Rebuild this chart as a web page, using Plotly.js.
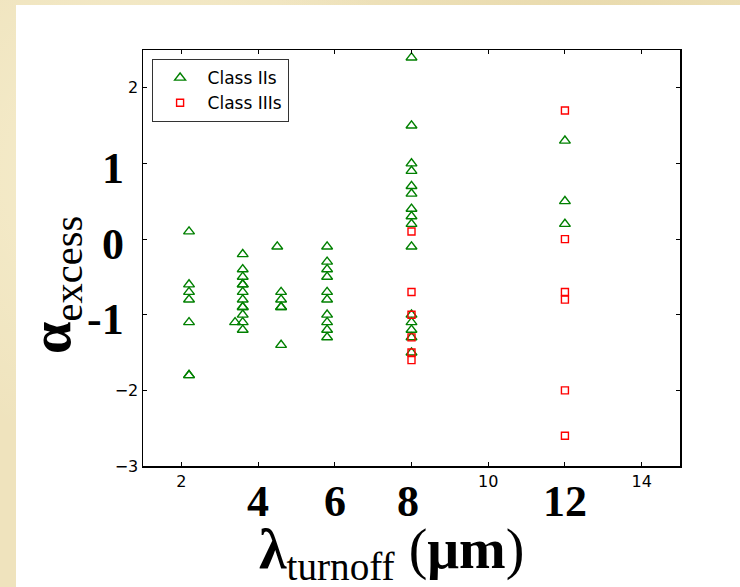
<!DOCTYPE html>
<html>
<head>
<meta charset="utf-8">
<script src="https://cdn.plot.ly/plotly-3.0.1.min.js"></script>
<style>
  html, body { margin: 0; padding: 0; }
  body { width: 740px; height: 587px; overflow: hidden; position: relative;
         background: #efe3bd;
         background-image: radial-gradient(circle at 20% 30%, rgba(255,250,225,0.5), rgba(0,0,0,0) 40%),
                           radial-gradient(circle at 80% 10%, rgba(220,200,140,0.35), rgba(0,0,0,0) 40%); }
  #panel { position: absolute; left: 16px; top: 5px; right: 0; bottom: 0; background: #ffffff; }
  #chart { position: absolute; left: 0; top: 0; width: 740px; height: 587px; }
</style>
</head>
<body>
<div id="panel"></div>
<div id="chart"></div>
<script>
// ---- data ----
const classII_x = [
  2.2, 2.2, 2.2, 2.2, 2.2, 2.2, 2.2,
  3.6, 3.6, 3.6, 3.6, 3.6, 3.6, 3.6, 3.6, 3.6, 3.6, 3.6, 3.6,
  3.4,
  4.5,
  4.6, 4.6, 4.6, 4.6, 4.6,
  5.8, 5.8, 5.8, 5.8, 5.8, 5.8, 5.8, 5.8, 5.8, 5.8,
  8, 8, 8, 8, 8, 8, 8, 8, 8, 8, 8, 8, 8, 8, 8,
  12, 12, 12
];
const classII_y = [
  0.1, -0.6, -0.7, -0.8, -1.1, -1.8, -1.8,
  -0.2, -0.4, -0.5, -0.6, -0.6, -0.7, -0.8, -0.9, -0.9, -1.0, -1.1, -1.2,
  -1.1,
  -0.1,
  -0.7, -0.8, -0.9, -0.9, -1.4,
  -0.1, -0.3, -0.4, -0.5, -0.7, -0.8, -1.0, -1.1, -1.2, -1.3,
  2.4, 1.5, 1.0, 0.9, 0.7, 0.6, 0.4, 0.3, 0.2, -0.1, -1.0, -1.1, -1.2, -1.3, -1.5,
  1.3, 0.5, 0.2
];
const classIII_x = [8, 8, 8, 8, 8, 8, 12, 12, 12, 12, 12, 12];
const classIII_y = [0.1, -0.7, -1.0, -1.3, -1.5, -1.6, 1.7, 0.0, -0.7, -0.8, -2.0, -2.6];

const seriesNames = ['Class IIs', 'Class IIIs'];

// small tick labels (major) and unlabelled tick positions (minor)
const xTickVals = [2, 10, 14];
const xTickText = ['2', '10', '14'];
const xMinorVals = [4, 6, 8, 12];
const yTickVals = [-3, -2, 2];
const yTickText = ['\u22123', '\u22122', '2'];
const yMinorVals = [-1, 0, 1];

// large overlaid tick labels
const xBigLabels = ['4', '6', '8', '12'];
const xBigPos = [4, 6, 7.9, 12];
const yBigLabels = ['1', '0', '-1'];
const yBigPos = [1, 0, -1];

const xTitle = '<b>\u03bb</b><sub>turnoff</sub> (<b>\u03bcm</b>)';
const yTitle = '<b>\u03b1</b><sub>excess</sub>';

const traces = [
  { x: classII_x, y: classII_y, name: seriesNames[0], type: 'scatter', mode: 'markers',
    marker: { symbol: 'triangle-up-open', size: 9.5, color: '#008000', line: { width: 1.4, color: '#008000' } } },
  { x: classIII_x, y: classIII_y, name: seriesNames[1], type: 'scatter', mode: 'markers',
    marker: { symbol: 'square-open', size: 7, color: '#ff0000', line: { width: 1.4, color: '#ff0000' } } }
];

const serif = 'Liberation Serif, Times New Roman, serif';
const annotations = [];
xBigLabels.forEach((t, i) => annotations.push({
  text: t, x: xBigPos[i], xref: 'x', y: -0.085, yref: 'paper', xanchor: 'center', yanchor: 'middle',
  showarrow: false, font: { family: serif, size: 44, color: '#000', weight: 'bold' }
}));
yBigLabels.forEach((t, i) => annotations.push({
  text: t, x: -0.032, xref: 'paper', y: yBigPos[i], yref: 'y', xanchor: 'right', yanchor: 'middle', yshift: -5,
  showarrow: false, font: { family: serif, size: 44, color: '#000', weight: 'bold' }
}));
annotations.push({
  text: yTitle, x: -0.166, xref: 'paper', y: 0.435, yref: 'paper', xanchor: 'center', yanchor: 'middle',
  textangle: -90, showarrow: false,
  font: { family: serif, size: 58, color: '#000' }
});
annotations.push({
  text: xTitle, x: 0.463, xref: 'paper', y: -0.208, yref: 'paper', xanchor: 'center', yanchor: 'middle',
  showarrow: false,
  font: { family: serif, size: 56, color: '#000' }
});

const axisCommon = {
  showline: true, linecolor: '#000', linewidth: 1.5, mirror: 'ticks',
  ticks: 'inside', ticklen: 4, tickwidth: 1, tickcolor: '#000',
  showgrid: false, zeroline: false,
  tickfont: { family: 'DejaVu Sans, sans-serif', size: 16, color: '#000' },
  tickmode: 'array'
};
const minorCommon = { tickmode: 'array', ticks: 'inside', ticklen: 4, tickwidth: 1, tickcolor: '#000', showgrid: false };

const layout = {
  width: 740, height: 587,
  margin: { l: 143, r: 60, t: 50, b: 121 },
  paper_bgcolor: 'rgba(0,0,0,0)', plot_bgcolor: '#ffffff',
  showlegend: true,
  legend: {
    x: 0.016, y: 0.978, xanchor: 'left', yanchor: 'top',
    bgcolor: '#ffffff', bordercolor: '#333', borderwidth: 1,
    font: { family: 'DejaVu Sans, sans-serif', size: 17, color: '#000' },
    itemwidth: 45, tracegroupgap: 0
  },
  xaxis: Object.assign({}, axisCommon, { range: [1, 15], tickvals: xTickVals, ticktext: xTickText,
    minor: Object.assign({}, minorCommon, { tickvals: xMinorVals }) }),
  yaxis: Object.assign({}, axisCommon, { range: [-3, 2.5], tickvals: yTickVals, ticktext: yTickText,
    minor: Object.assign({}, minorCommon, { tickvals: yMinorVals }) }),
  annotations: annotations
};

Plotly.newPlot('chart', traces, layout, { displayModeBar: false, staticPlot: true });
</script>
</body>
</html>
